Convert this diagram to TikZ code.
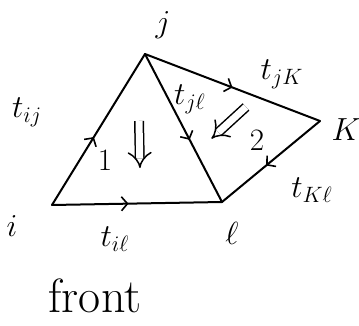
\documentclass[tikz,border=0pt]{standalone}
\usepackage{graphicx}
\usetikzlibrary{arrows.meta,decorations.markings}
\newcommand{\mylbl}[1]{\scalebox{1.85}{$#1$}}
\newcommand{\mynum}[1]{\scalebox{1.8}{$#1$}}
\begin{document}
\begin{tikzpicture}[x=1pt,y=-1pt,
  edge/.style={line width=2pt, line join=round, line cap=round},
  midarrow/.style={postaction={decorate},decoration={markings,mark=at position #1 with {\arrow[line width=1.6pt]{Straight Barb[length=6pt,width=14pt]}}}},
  lab/.style={inner sep=0pt, font=\LARGE},
  dbl/.style={line width=1.5pt, double, double distance=7pt, -{Implies}, shorten >=2pt}]
\useasboundingbox (0,0) rectangle (359,326);
\coordinate (i) at (52,205);
\coordinate (j) at (145,54);
\coordinate (l) at (222,202);
\coordinate (k) at (320,121);
\draw[edge, midarrow=0.45] (i) -- (j);
\draw[edge, midarrow=0.45] (i) -- (l);
\draw[edge, midarrow=0.58] (j) -- (l);
\draw[edge, midarrow=0.5] (j) -- (k);
\draw[edge, midarrow=0.55] (k) -- (l);
\node[lab] (ni) at (12,226) {\mylbl{i}};
\node[lab] (nj) at (163,25) {\mylbl{j}};
\node[lab] (nk) at (346,130) {\mylbl{K}};
\node[lab] (nl) at (232,233) {\mylbl{\ell}};
\node[lab] (tij) at (27,112) {\mylbl{t_{ij}}};
\node[lab] (tjk) at (282,74) {\mylbl{t_{jK}}};
\node[lab] (tjl) at (190,99) {\mylbl{t_{j\ell}}};
\node[lab] (tkl) at (312,190) {\mylbl{t_{K\ell}}};
\node[lab] (til) at (115,239) {\mylbl{t_{i\ell}}};
\node[lab] (one) at (105,160) {\mynum{1}};
\node[lab] (two) at (257,140) {\mynum{2}};
\node[lab, font=\fontsize{48}{52}\selectfont] (front) at (95,296) {front};
\coordinate (a1) at (139,121);
\coordinate (b1) at (140,170);
\draw[dbl] (a1) -- (b1);
\coordinate (a2) at (246,107);
\coordinate (b2) at (210,140);
\draw[dbl] (a2) -- (b2);
\end{tikzpicture}
\end{document}
